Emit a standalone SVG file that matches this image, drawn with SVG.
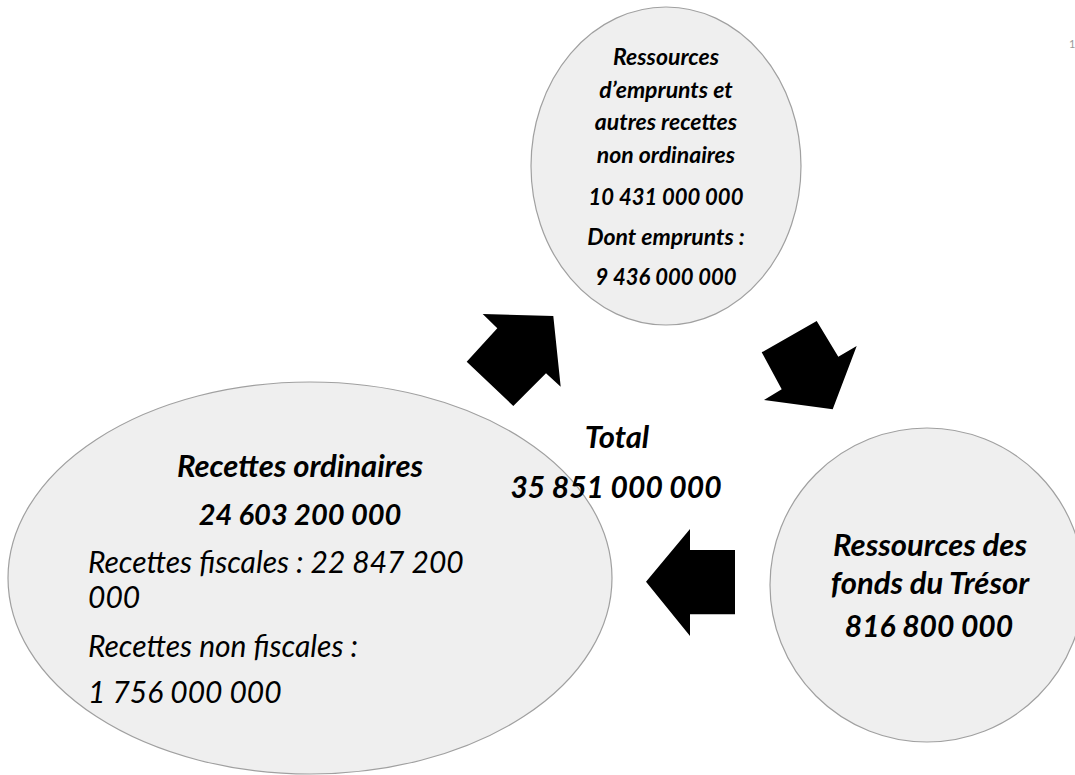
<svg xmlns="http://www.w3.org/2000/svg" width="1075" height="775" viewBox="0 0 1075 775">
<style>
.node{fill:#efefef;stroke:#a0a0a0;stroke-width:1.2}
.t{font-family:Lato,"Open Sans",sans-serif;font-style:italic;fill:#000}
.b{font-weight:bold}
.c{text-anchor:middle}
.arrow{fill:#000;stroke:none}
.pg{font-family:Lato,sans-serif;font-size:11px;fill:#999}
</style>
<rect width="1075" height="775" fill="#fff"/>
<g id="node-emprunts">
<ellipse class="node" cx="666" cy="166" rx="135" ry="159"/>
<text class="t b c" font-size="23" x="666" y="65">Ressources</text>
<text class="t b c" font-size="23" x="666" y="98">d’emprunts et</text>
<text class="t b c" font-size="23" x="666" y="130">autres recettes</text>
<text class="t b c" font-size="23" x="666" y="163">non ordinaires</text>
<text class="t b c" font-size="22" x="666" y="205">10 431 000 000</text>
<text class="t b c" font-size="23" x="666" y="245">Dont emprunts :</text>
<text class="t b c" font-size="22" x="666" y="285">9 436 000 000</text>
</g>
<g id="node-ordinaires">
<ellipse class="node" cx="310" cy="578" rx="302" ry="196"/>
<text class="t b c" font-size="31" x="300" y="477">Recettes ordinaires</text>
<text class="t b c" font-size="29" x="300" y="525">24 603 200 000</text>
<text class="t" font-size="30" x="88" y="573">Recettes fiscales : 22 847 200</text>
<text class="t" font-size="30" x="88" y="608">000</text>
<text class="t" font-size="30" x="88" y="657">Recettes non fiscales :</text>
<text class="t" font-size="30" x="88" y="703">1 756 000 000</text>
</g>
<g id="node-tresor">
<circle class="node" cx="927" cy="585" r="157"/>
<text class="t b c" font-size="31" x="930" y="556">Ressources des</text>
<text class="t b c" font-size="31" x="930" y="594">fonds du Trésor</text>
<text class="t b c" font-size="30" x="929" y="637">816 800 000</text>
</g>
<g id="node-total">
<text class="t b c" font-size="31" x="617" y="448">Total</text>
<text class="t b c" font-size="30" x="616" y="498">35 851 000 000</text>
</g>
<g id="connectors">
<polygon class="arrow" points="482.7,314 553.3,316 560.7,386.7 546,373.3 513.3,406 466.7,361.7 497.3,328.3"/>
<polygon class="arrow" points="761.7,352.3 816.7,321 838.3,356.7 856.7,346 832.7,409.3 764,400 781.7,389.3"/>
<polygon class="arrow" points="646,581.7 690,529 690,550 735,550 735,614.3 690,614.3 690,636"/>
</g>
<text class="pg" x="1069" y="48">1</text>
</svg>
